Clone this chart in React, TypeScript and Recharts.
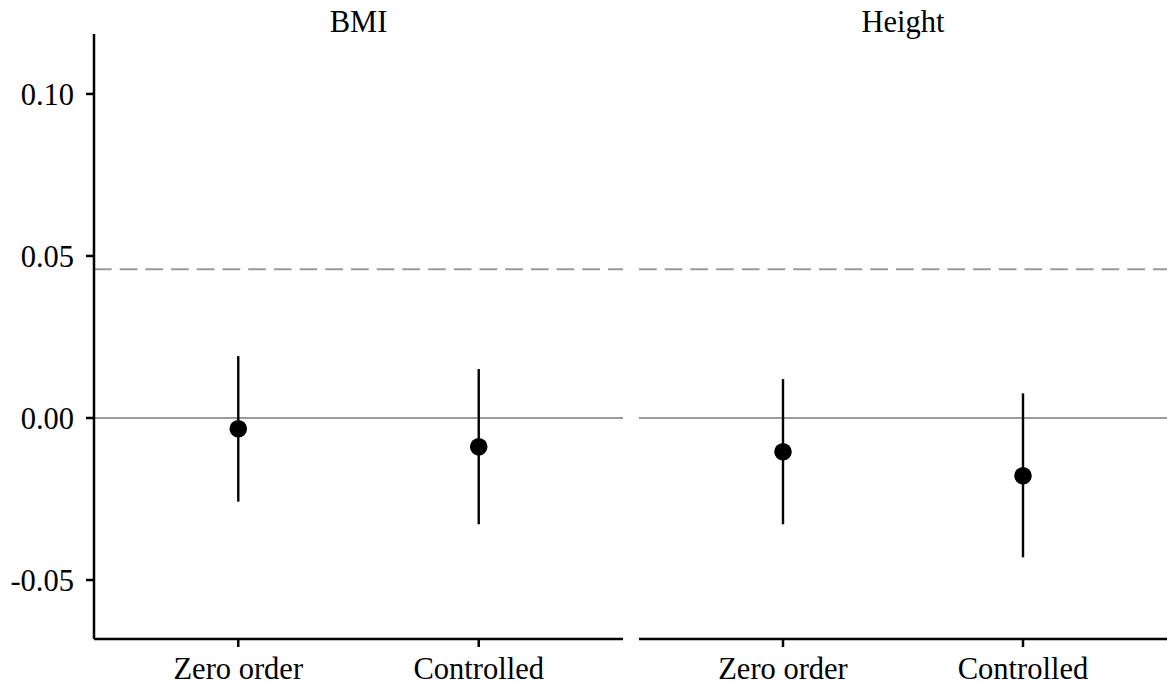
import React from "react";
import {
  ScatterChart,
  Scatter,
  XAxis,
  YAxis,
  ErrorBar,
  ReferenceLine,
} from "recharts";

const categories = ["Zero order", "Controlled"];
const panels = ["BMI", "Height"];

const bmiEstimate = [-0.0033, -0.0089];
const bmiLower = [-0.0258, -0.0328];
const bmiUpper = [0.0191, 0.0151];

const heightEstimate = [-0.0104, -0.0178];
const heightLower = [-0.0328, -0.043];
const heightUpper = [0.012, 0.0076];

const yTicks = [-0.05, 0, 0.05, 0.1];
const dashedRef = 0.0459;

const FONT = "'Liberation Serif', 'Times New Roman', serif";

function buildData(est: number[], lo: number[], hi: number[]) {
  return categories.map((c, i) => ({
    x: i + 1,
    y: est[i],
    err: [est[i] - lo[i], hi[i] - est[i]],
  }));
}

const bmiData = buildData(bmiEstimate, bmiLower, bmiUpper);
const heightData = buildData(heightEstimate, heightLower, heightUpper);

const Dot = (props: any) => (
  <circle cx={props.cx} cy={props.cy} r={8.8} fill="#000" />
);

const tickStyle = { fill: "#000", fontSize: 30.5, fontFamily: FONT };

function Panel({
  data,
  width,
  showY,
}: {
  data: any[];
  width: number;
  showY: boolean;
}) {
  return (
    <ScatterChart
      width={width}
      height={683}
      margin={{ top: 34, right: 0, bottom: 0, left: 0 }}
    >
      <XAxis
        type="number"
        dataKey="x"
        domain={[0.4, 2.6]}
        ticks={[1, 2]}
        tickFormatter={(v: number) => categories[v - 1]}
        allowDataOverflow
        height={44}
        tickSize={8}
        tickMargin={10}
        tick={tickStyle}
        axisLine={{ stroke: "#000", strokeWidth: 2.5 }}
        tickLine={{ stroke: "#000", strokeWidth: 2.5 }}
        interval={0}
      />
      <YAxis
        type="number"
        dataKey="y"
        domain={[-0.0682, 0.1185]}
        ticks={yTicks}
        allowDataOverflow
        hide={!showY}
        width={showY ? 94 : 0}
        tickSize={8}
        tickMargin={12}
        tick={tickStyle}
        tickFormatter={(v: number) => v.toFixed(2)}
        axisLine={{ stroke: "#000", strokeWidth: 2.5 }}
        tickLine={{ stroke: "#000", strokeWidth: 2.5 }}
        interval={0}
      />
      <ReferenceLine y={0} stroke="#9a9a9a" strokeWidth={2.2} />
      <ReferenceLine
        y={dashedRef}
        stroke="#9a9a9a"
        strokeWidth={2.2}
        strokeDasharray="17.7 8"
      />
      <Scatter data={data} shape={Dot} isAnimationActive={false}>
        <ErrorBar
          dataKey="err"
          direction="y"
          width={0}
          stroke="#000"
          strokeWidth={2.4}
          style={{ strokeWidth: 2.4 }}
          isAnimationActive={false}
        />
      </Scatter>
    </ScatterChart>
  );
}

export default function App() {
  return (
    <div
      style={{
        position: "absolute",
        left: 0,
        top: 0,
        width: 1167,
        height: 683,
        background: "#fff",
        overflow: "hidden",
      }}
    >
      <div style={{ position: "absolute", left: 0, top: 0 }}>
        <Panel data={bmiData} width={623} showY={true} />
      </div>
      <div style={{ position: "absolute", left: 639, top: 0 }}>
        <Panel data={heightData} width={528} showY={false} />
      </div>
      <svg
        width={1167}
        height={40}
        style={{ position: "absolute", left: 0, top: 0 }}
      >
        <text
          x={358.5}
          y={32}
          textAnchor="middle"
          fontSize={30.5}
          fontFamily={FONT}
          fill="#000"
        >
          {panels[0]}
        </text>
        <text
          x={903}
          y={32}
          textAnchor="middle"
          fontSize={30.5}
          fontFamily={FONT}
          fill="#000"
        >
          {panels[1]}
        </text>
      </svg>
    </div>
  );
}
